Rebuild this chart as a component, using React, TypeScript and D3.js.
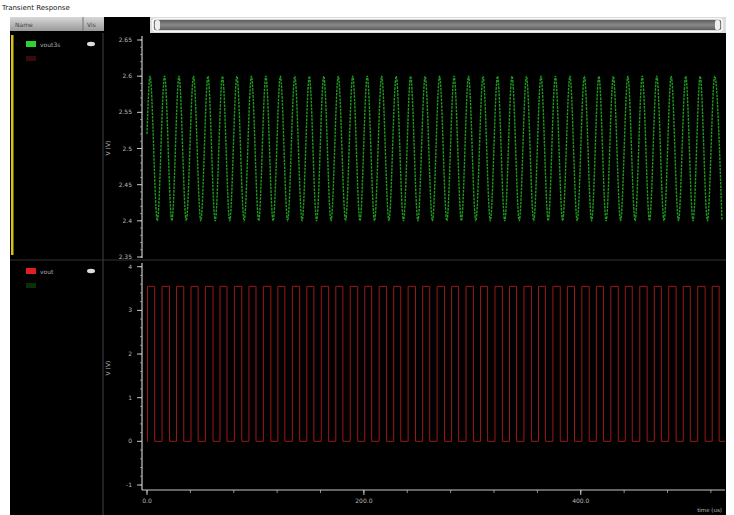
import React from "react";
import * as d3 from "d3";

const W = 734;
const H = 515;

// Green trace (vout3s): times (us) of maxima and minima
const greenPeakTimes = [2.8, 16.2, 29.5, 42.9, 56.2, 69.6, 82.9, 96.3, 109.6, 123.0, 136.3, 149.7, 163.0, 176.4, 189.7, 203.1, 216.4, 229.8, 243.1, 256.5, 269.8, 283.2, 296.5, 309.9, 323.2, 336.6, 349.9, 363.3, 376.6, 390.0, 403.3, 416.7, 430.0, 443.4, 456.7, 470.1, 483.4, 496.8, 510.1, 523.5];
const greenTroughTimes = [9.5, 22.9, 36.2, 49.6, 62.9, 76.3, 89.6, 103.0, 116.3, 129.7, 143.0, 156.4, 169.7, 183.1, 196.4, 209.8, 223.1, 236.5, 249.8, 263.2, 276.5, 289.9, 303.2, 316.6, 329.9, 343.3, 356.6, 370.0, 383.3, 396.7, 410.0, 423.4, 436.7, 450.1, 463.4, 476.8, 490.1, 503.5, 516.8, 530.2];
const greenPeakValue = 2.6;
const greenTroughValue = 2.4;
const greenStartValue = 2.52;

// Red trace (vout): rising / falling edge times (us)
const redRiseTimes = [0.5, 13.9, 27.2, 40.6, 53.9, 67.3, 80.6, 94.0, 107.3, 120.7, 134.0, 147.4, 160.7, 174.1, 187.4, 200.8, 214.1, 227.5, 240.8, 254.2, 267.5, 280.9, 294.2, 307.6, 320.9, 334.3, 347.6, 361.0, 374.3, 387.7, 401.0, 414.4, 427.7, 441.1, 454.4, 467.8, 481.1, 494.5, 507.8, 521.2];
const redFallTimes = [7.1, 20.8, 33.9, 47.2, 60.9, 73.8, 87.4, 100.5, 114.2, 127.1, 140.8, 153.9, 167.5, 180.6, 194.3, 207.2, 220.9, 234.0, 247.6, 260.7, 274.4, 287.3, 301.0, 314.1, 327.7, 340.8, 354.5, 367.4, 381.1, 394.2, 407.8, 420.9, 434.6, 447.5, 461.2, 474.3, 487.9, 501.0, 514.7, 527.6];
const redHigh = 3.55;
const redLow = 0;

const topTicks = [2.35, 2.4, 2.45, 2.5, 2.55, 2.6, 2.65];
const topTickLabels = ["2.35", "2.4", "2.45", "2.5", "2.55", "2.6", "2.65"];
const bottomTicks = [-1, 0, 1, 2, 3, 4];
const bottomTickLabels = ["-1", "0", "1", "2", "3", "4"];
const xTicks = [0, 200, 400];
const xTickLabels = ["0.0", "200.0", "400.0"];
const xDomain = [0, 533];

const FONT = "'DejaVu Sans', sans-serif";
const AXIS = "#c8c8c8";

export default function App() {
  const x = d3.scaleLinear().domain(xDomain).range([147, 725]);
  const yTop = d3.scaleLinear().domain([2.35, 2.65]).range([257, 40]);
  const yBot = d3.scaleLinear().domain([-1, 4]).range([485, 266.7]);

  type P = { t: number; v: number };
  const greenPts: P[] = [{ t: 0, v: greenStartValue }]
    .concat(greenPeakTimes.map((t) => ({ t, v: greenPeakValue })))
    .concat(greenTroughTimes.map((t) => ({ t, v: greenTroughValue })))
    .sort((a, b) => a.t - b.t);
  const greenLine = d3
    .line<P>()
    .x((d) => x(d.t))
    .y((d) => yTop(d.v))
    .curve(d3.curveMonotoneX)(greenPts.filter((d) => d.t <= xDomain[1]));

  const redPts: P[] = [{ t: 0, v: redLow }];
  redRiseTimes.forEach((r, i) => {
    const f = redFallTimes[i];
    redPts.push({ t: r, v: redLow }, { t: r, v: redHigh }, { t: f, v: redHigh }, { t: f, v: redLow });
  });
  redPts.push({ t: xDomain[1], v: redLow });
  const redLine = d3
    .line<P>()
    .x((d) => x(d.t))
    .y((d) => yBot(d.v))(redPts);

  const topMinor = d3.range(2.35, 2.6501, 0.01);
  const botMinor = d3.range(-1, 4.001, 0.2);
  const xMinor = d3.range(0, 533, 40);
  const axisX = 142;

  return (
    <svg
      width={W}
      height={H}
      style={{ position: "fixed", top: 0, left: 0, background: "#fff" }}
      fontFamily={FONT}
    >
      <defs>
        <linearGradient id="hdr" x1="0" y1="0" x2="0" y2="1">
          <stop offset="0" stopColor="#d8d8d8" />
          <stop offset="1" stopColor="#9a9a9a" />
        </linearGradient>
        <linearGradient id="scr" x1="0" y1="0" x2="0" y2="1">
          <stop offset="0" stopColor="#555" />
          <stop offset="0.5" stopColor="#8a8a8a" />
          <stop offset="1" stopColor="#555" />
        </linearGradient>
        <clipPath id="clipTop">
          <rect x={143} y={34} width={582} height={224} />
        </clipPath>
        <clipPath id="clipBot">
          <rect x={143} y={262} width={582} height={226} />
        </clipPath>
      </defs>

      {/* title */}
      <text x={2} y={10} fontSize={7} fill="#222">Transient Response</text>

      {/* dark body */}
      <rect x={10} y={17} width={716} height={498} fill="#000" />

      {/* header row */}
      <rect x={10} y={17} width={94} height={14} fill="url(#hdr)" />
      <line x1={83} y1={17} x2={83} y2={31} stroke="#777" />
      <text x={15} y={27} fontSize={6} fill="#444">Name</text>
      <text x={87} y={27} fontSize={6} fill="#444">Vis</text>

      {/* scrollbar */}
      <rect x={150} y={17} width={576} height={16} fill="#ddd" />
      <rect x={153} y={19} width={569} height={12} rx={3} fill="url(#scr)" stroke="#fff" strokeWidth={1.5} />
      <rect x={155} y={20} width={5} height={10} rx={2} fill="#eee" />
      <rect x={715} y={20} width={5} height={10} rx={2} fill="#eee" />

      {/* left panel separators */}
      <line x1={103} y1={33} x2={103} y2={515} stroke="#444" />
      <line x1={10} y1={260} x2={726} y2={260} stroke="#333" />
      <rect x={11} y={35} width={2.5} height={220} fill="#d4c21a" />

      {/* legend entries */}
      <rect x={26} y={41} width={10} height={6} fill="#2fd12f" />
      <rect x={26} y={56} width={10} height={5} fill="#3a0a0a" />
      <text x={40} y={47} fontSize={6} fill="#aaa">vout3s</text>
      <ellipse cx={91} cy={44} rx={4} ry={2.2} fill="#ddd" />
      <rect x={26} y={268} width={10} height={6} fill="#e02020" />
      <rect x={26} y={283} width={10} height={5} fill="#0a300a" />
      <text x={40} y={274} fontSize={6} fill="#aaa">vout</text>
      <ellipse cx={91} cy={271} rx={4} ry={2.2} fill="#ddd" />

      {/* top axis */}
      <line x1={axisX} y1={36} x2={axisX} y2={258} stroke={AXIS} strokeWidth={1.2} />
      {topMinor.map((v, i) => (
        <line key={"tm" + i} x1={axisX - 2} x2={axisX} y1={yTop(v)} y2={yTop(v)} stroke={AXIS} strokeWidth={0.6} />
      ))}
      {topTicks.map((v, i) => (
        <g key={"tt" + i}>
          <line x1={axisX - 5} x2={axisX} y1={yTop(v)} y2={yTop(v)} stroke={AXIS} />
          <text x={axisX - 10} y={yTop(v) + 2} fontSize={6} fill="#bbb" textAnchor="end">
            {topTickLabels[i]}
          </text>
        </g>
      ))}
      <text transform={`translate(110,148) rotate(-90)`} fontSize={6} fill="#bbb" textAnchor="middle">V (V)</text>

      {/* bottom axis */}
      <line x1={axisX} y1={263} x2={axisX} y2={490} stroke={AXIS} strokeWidth={1.2} />
      {botMinor.map((v, i) => (
        <line key={"bm" + i} x1={axisX - 2} x2={axisX} y1={yBot(v)} y2={yBot(v)} stroke={AXIS} strokeWidth={0.6} />
      ))}
      {bottomTicks.map((v, i) => (
        <g key={"bt" + i}>
          <line x1={axisX - 5} x2={axisX} y1={yBot(v)} y2={yBot(v)} stroke={AXIS} />
          <text x={axisX - 10} y={yBot(v) + 2} fontSize={6} fill="#bbb" textAnchor="end">
            {bottomTickLabels[i]}
          </text>
        </g>
      ))}
      <text transform={`translate(110,368) rotate(-90)`} fontSize={6} fill="#bbb" textAnchor="middle">V (V)</text>

      {/* x axis */}
      <line x1={axisX} y1={490} x2={725} y2={490} stroke={AXIS} strokeWidth={1.2} />
      {xMinor.map((t, i) => (
        <line key={"xm" + i} x1={x(t)} x2={x(t)} y1={490} y2={493} stroke={AXIS} strokeWidth={0.7} />
      ))}
      {xTicks.map((t, i) => (
        <g key={"xt" + i}>
          <line x1={x(t)} x2={x(t)} y1={490} y2={495} stroke={AXIS} />
          <text x={x(t)} y={503} fontSize={6} fill="#bbb" textAnchor="middle">
            {xTickLabels[i]}
          </text>
        </g>
      ))}
      <text x={722} y={512} fontSize={5.5} fill="#bbb" textAnchor="end">time (us)</text>

      {/* traces */}
      <g clipPath="url(#clipTop)">
        <path d={greenLine || ""} fill="none" stroke="#1f9a1f" strokeWidth={1.4} strokeDasharray="2.5,1" />
      </g>
      <g clipPath="url(#clipBot)">
        <path d={redLine || ""} fill="none" stroke="#9c1818" strokeWidth={1} />
      </g>

      {/* right white border */}
      <rect x={726} y={0} width={8} height={515} fill="#fff" />
    </svg>
  );
}
